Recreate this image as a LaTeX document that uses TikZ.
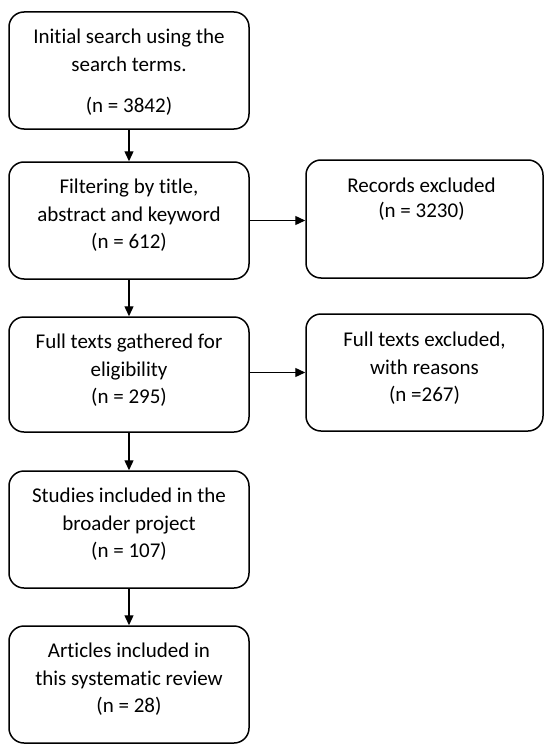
\documentclass[tikz,border=0pt]{standalone}
\usepackage{fontspec}
\setmainfont[Ligatures=NoCommon]{Carlito}
\usetikzlibrary{arrows.meta,calc}
\tikzset{
  flowbox/.style={draw=black, line width=1.5pt, rounded corners=15pt, inner sep=0pt},
  lefbox/.style={flowbox, minimum width=240pt},
  rigbox/.style={flowbox, minimum width=237pt},
  boxtext/.style={anchor=north, align=center, inner sep=0pt, font=\fontsize{21}{27.5}\selectfont},
  arr/.style={line width=1.3pt, -{Triangle[length=10pt,width=9pt]}}
}
\begin{document}
\begin{tikzpicture}[x=1pt,y=-1pt]
\useasboundingbox (0,0) rectangle (550,752);
\node[lefbox, minimum height=117pt] (b1) at (129,70.5) {};
\node[lefbox, minimum height=117pt] (b2) at (129,220.5) {};
\node[lefbox, minimum height=115pt] (b3) at (129,374.5) {};
\node[lefbox, minimum height=117pt] (b4) at (129,529.5) {};
\node[lefbox, minimum height=117pt] (b5) at (129,684.5) {};
\node[rigbox, minimum height=118pt] (r1) at (424.5,219) {};
\node[rigbox, minimum height=117pt] (r2) at (424.5,372.5) {};

\node[boxtext] (t1) at ($(b1.north)+(0,17.5)$) {Initial search using the\\ search terms.\\[14pt] (n = 3842)};
\node[boxtext] (t2) at ($(b2.north)+(0,17.5)$) {Filtering by title,\\ abstract and keyword\\ (n = 612)};
\node[boxtext] (t3) at ($(b3.north)+(0,17.5)$) {Full texts gathered for\\ eligibility\\ (n = 295)};
\node[boxtext] (t4) at ($(b4.north)+(0,17.5)$) {Studies included in the\\ broader project\\ (n = 107)};
\node[boxtext] (t5) at ($(b5.north)+(0,17.5)$) {Articles included in\\ this systematic review\\ (n = 28)};
\node[boxtext, font=\fontsize{21}{24.5}\selectfont] (t6) at ($(r1.north)+(-3,18.5)$) {Records excluded\\ (n = 3230)};
\node[boxtext] (t7) at ($(r2.north)+(0,18.5)$) {Full texts excluded,\\ with reasons\\ (n =267)};

\draw[arr] (b1) -- (b2);
\draw[arr] (b2) -- (b3);
\draw[arr] (b3) -- (b4);
\draw[arr] (b4) -- (b5);
\draw[arr] (b2.east) -- (b2.east -| r1.west);
\draw[arr] (r2.west -| b3.east) -- (r2.west);
\end{tikzpicture}
\end{document}
